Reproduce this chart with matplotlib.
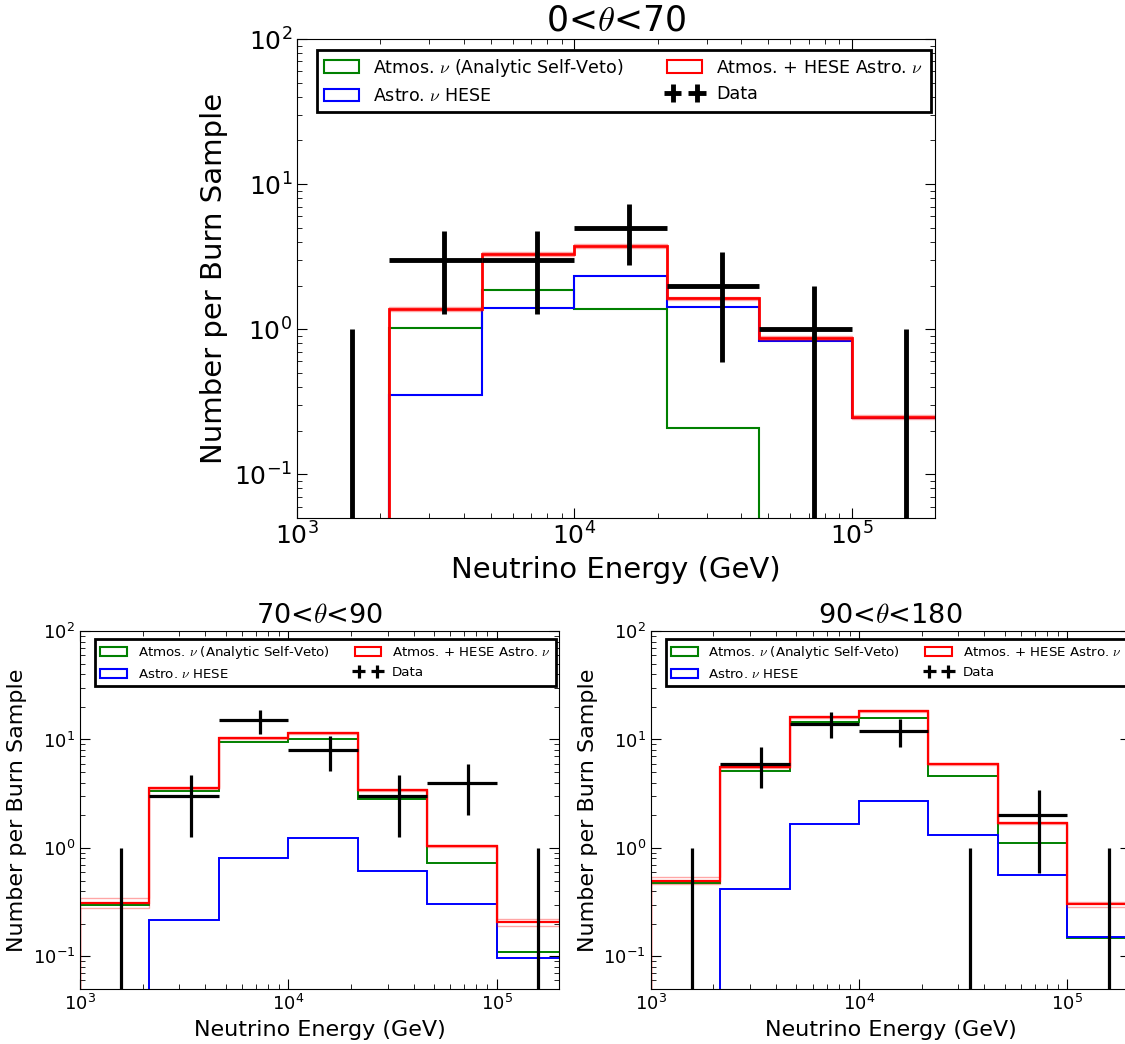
import numpy as np
import matplotlib
matplotlib.use('Agg')
import matplotlib.pyplot as plt
import matplotlib.patches as mpatches

plt.rcParams['font.family'] = ['DejaVu Sans']
plt.rcParams['mathtext.fontset'] = 'cm'

# bin edges in GeV (3 per decade)
edges = [1000, 2154, 4642, 10000, 21544, 46416, 100000, 215443]

# 0 < theta < 70
green_0_70 = [0, 1.02, 1.86, 1.38, 0.207, 0, 0]
blue_0_70 = [0, 0.354, 1.41, 2.34, 1.43, 0.826, 0.245]
red_0_70 = [0, 1.38, 3.31, 3.74, 1.63, 0.87, 0.249]
band_0_70 = [0.03, 0.03, 0.03, 0.03, 0.03, 0.03, 0.03]
data_0_70 = [0, 3, 3, 5, 2, 1, 0]
derr_0_70 = [1, 1.73, 1.73, 2.24, 1.41, 1, 1]

# 70 < theta < 90
green_70_90 = [0.298, 3.38, 9.5, 10.1, 2.83, 0.727, 0.11]
blue_70_90 = [0, 0.218, 0.80, 1.245, 0.61, 0.306, 0.097]
red_70_90 = [0.313, 3.6, 10.4, 11.4, 3.45, 1.04, 0.207]
band_70_90 = [0.11, 0.02, 0.02, 0.025, 0.02, 0.025, 0.07]
data_70_90 = [0, 3, 15, 8, 3, 4, 0]
derr_70_90 = [1, 1.73, 3.87, 2.83, 1.73, 2.0, 1]

# 90 < theta < 180
green_90_180 = [0.479, 5.17, 14.6, 15.85, 4.59, 1.12, 0.148]
blue_90_180 = [0, 0.418, 1.65, 2.68, 1.31, 0.567, 0.15]
red_90_180 = [0.5, 5.6, 16.2, 18.4, 5.92, 1.69, 0.302]
band_90_180 = [0.07, 0.02, 0.02, 0.02, 0.02, 0.025, 0.05]
data_90_180 = [0, 6, 14, 12, 0, 2, 0]
derr_90_180 = [1, 2.45, 3.74, 3.46, 1, 1.41, 1]

labels = [r'Atmos. $\nu$ (Analytic Self-Veto)', r'Astro. $\nu$ HESE',
          r'Atmos. + HESE Astro. $\nu$', 'Data']


def panel(ax, green, blue, red, band, data, derr, title, big):
    e = np.array(edges, dtype=float)
    lo, hi = e[:-1], e[1:]
    centers = (lo + hi) / 2
    if big:
        fs_tick, fs_lab, fs_title, fs_leg, lw_d, lw_h, lw_r = 18, 21, 25, 12.6, 3.5, 1.5, 2.0
    else:
        fs_tick, fs_lab, fs_title, fs_leg, lw_d, lw_h, lw_r = 13, 16, 19.5, 9.6, 2.3, 1.4, 1.6

    red = np.array(red)
    band = np.array(band)
    ax.hist(centers, bins=e, weights=green, histtype='step', color='green', lw=lw_h)
    ax.hist(centers, bins=e, weights=blue, histtype='step', color='blue', lw=lw_h)
    ax.hist(centers, bins=e, weights=red * (1 + band), histtype='step', color='red', lw=1, alpha=0.35)
    ax.hist(centers, bins=e, weights=red * (1 - band), histtype='step', color='red', lw=1, alpha=0.35)
    ax.hist(centers, bins=e, weights=red, histtype='step', color='red', lw=lw_r)
    eb = ax.errorbar(centers, data, xerr=[centers - lo, hi - centers], yerr=derr,
                     fmt='none', ecolor='black', elinewidth=lw_d, capsize=0, zorder=5)

    ax.set_xscale('log')
    ax.set_yscale('log', nonpositive='clip')
    ax.set_xlim(1e3, 2e5)
    ax.set_ylim(0.05, 100)
    ax.tick_params(which='both', direction='in', top=True, right=True, labelsize=fs_tick)
    ax.tick_params(which='major', length=7)
    ax.tick_params(which='minor', length=3.5)
    ax.set_xlabel('Neutrino Energy (GeV)', fontsize=fs_lab)
    ax.set_ylabel('Number per Burn Sample', fontsize=fs_lab)
    ax.set_title(title, fontsize=fs_title)

    handles = [mpatches.Patch(fill=False, edgecolor=c, lw=1.5) for c in ('green', 'blue', 'red')]
    leg = ax.legend(handles + [eb], labels, ncol=2, numpoints=2,
                    loc='upper left', mode='expand',
                    bbox_to_anchor=(0.031, 0.0, 0.962, 0.978),
                    fontsize=fs_leg, fancybox=False, framealpha=1,
                    borderaxespad=0.0, handlelength=2.0)
    leg.get_frame().set_edgecolor('black')
    leg.get_frame().set_linewidth(2)


fig = plt.figure(figsize=(11.25, 10.44), dpi=100)
ax1 = fig.add_axes([297 / 1125, 526 / 1044, 638 / 1125, 479 / 1044])
ax2 = fig.add_axes([80 / 1125, 55 / 1044, 479.4 / 1125, 358 / 1044])
ax3 = fig.add_axes([650.7 / 1125, 55 / 1044, 479.4 / 1125, 358 / 1044])

panel(ax1, green_0_70, blue_0_70, red_0_70, band_0_70, data_0_70, derr_0_70,
      r'0<$\theta$<70', True)
panel(ax2, green_70_90, blue_70_90, red_70_90, band_70_90, data_70_90, derr_70_90,
      r'70<$\theta$<90', False)
panel(ax3, green_90_180, blue_90_180, red_90_180, band_90_180, data_90_180, derr_90_180,
      r'90<$\theta$<180', False)

fig.savefig('out.png', dpi=100)
